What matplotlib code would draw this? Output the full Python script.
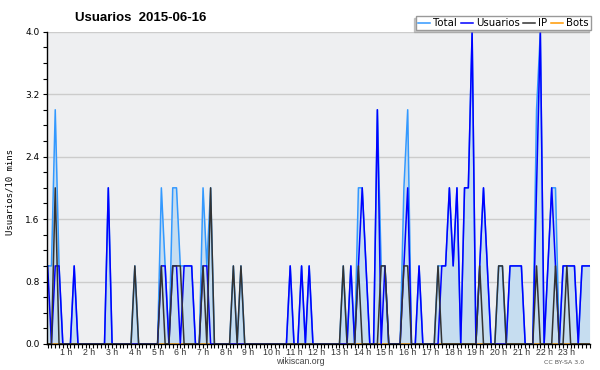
import matplotlib
matplotlib.use('Agg')
import matplotlib.pyplot as plt
import numpy as np

# values per 10 minutes, one row per hour (00h .. 23h)
total = [
    1, 1, 3, 1, 0, 0,   0, 1, 0, 0, 0, 0,   0, 0, 0, 0, 2, 0,   0, 0, 0, 0, 0, 1,
    0, 0, 0, 0, 0, 0,   2, 1, 0, 2, 2, 1,   1, 1, 1, 0, 0, 2,   1, 2, 0, 0, 0, 0,
    0, 1, 0, 1, 0, 0,   0, 0, 0, 0, 0, 0,   0, 0, 0, 0, 1, 0,   0, 1, 0, 1, 0, 0,
    0, 0, 0, 0, 0, 0,   1, 0, 1, 0, 2, 2,   1, 0, 0, 3, 1, 1,   0, 0, 0, 0, 2, 3,
    0, 0, 1, 0, 0, 0,   0, 1, 1, 1, 2, 1,   2, 0, 2, 2, 4, 0,   1, 2, 1, 0, 0, 1,
    1, 0, 1, 1, 1, 1,   0, 0, 0, 3, 4, 0,   1, 2, 2, 0, 1, 1,   1, 1, 0, 1, 1, 1,
]
usuarios = [
    1, 0, 1, 1, 0, 0,   0, 1, 0, 0, 0, 0,   0, 0, 0, 0, 2, 0,   0, 0, 0, 0, 0, 0,
    0, 0, 0, 0, 0, 0,   1, 1, 0, 1, 1, 0,   1, 1, 1, 0, 0, 1,   1, 0, 0, 0, 0, 0,
    0, 0, 0, 0, 0, 0,   0, 0, 0, 0, 0, 0,   0, 0, 0, 0, 1, 0,   0, 1, 0, 1, 0, 0,
    0, 0, 0, 0, 0, 0,   0, 0, 1, 0, 1, 2,   1, 0, 0, 3, 0, 1,   0, 0, 0, 0, 1, 2,
    0, 0, 1, 0, 0, 0,   0, 0, 1, 1, 2, 1,   2, 0, 2, 2, 4, 0,   1, 2, 1, 0, 0, 0,
    0, 0, 1, 1, 1, 1,   0, 0, 0, 2, 4, 0,   1, 2, 1, 0, 1, 1,   1, 1, 0, 1, 1, 1,
]
ip = [
    0, 0, 2, 0, 0, 0,   0, 0, 0, 0, 0, 0,   0, 0, 0, 0, 0, 0,   0, 0, 0, 0, 0, 1,
    0, 0, 0, 0, 0, 0,   1, 0, 0, 1, 1, 1,   0, 0, 0, 0, 0, 1,   0, 2, 0, 0, 0, 0,
    0, 1, 0, 1, 0, 0,   0, 0, 0, 0, 0, 0,   0, 0, 0, 0, 0, 0,   0, 0, 0, 0, 0, 0,
    0, 0, 0, 0, 0, 0,   1, 0, 0, 0, 1, 0,   0, 0, 0, 0, 1, 1,   0, 0, 0, 0, 1, 1,
    0, 0, 0, 0, 0, 0,   0, 1, 0, 0, 0, 0,   0, 0, 0, 0, 0, 0,   1, 0, 0, 0, 0, 1,
    1, 0, 0, 0, 0, 0,   0, 0, 0, 1, 0, 0,   0, 0, 1, 0, 0, 1,   0, 0, 0, 0, 0, 0,
]
bots = [0] * 144

hour_labels = ['1 h', '2 h', '3 h', '4 h', '5 h', '6 h', '7 h', '8 h', '9 h', '10 h',
               '11 h', '12 h', '13 h', '14 h', '15 h', '16 h', '17 h', '18 h', '19 h',
               '20 h', '21 h', '22 h', '23 h']
yticks = [0.0, 0.8, 1.6, 2.4, 3.2, 4.0]

fig = plt.figure(figsize=(6, 3.7), dpi=100)
ax = fig.add_axes([0.0778, 0.0703, 0.9055, 0.8441])
ax.set_facecolor('#eeeff1')

x = np.arange(len(total))
ax.fill_between(x, total, color='#c6ddf0', lw=0, zorder=1)
l_bots, = ax.plot(x, bots, color='#ff9900', lw=1.1, zorder=1.2)
l_total, = ax.plot(x, total, color='#3399ff', lw=1.1, zorder=2)
l_usu, = ax.plot(x, usuarios, color='#0000ff', lw=1.1, zorder=2.1)
l_ip, = ax.plot(x, ip, color='#333333', lw=1.1, zorder=2.2)

ax.set_xlim(-0.26, 143.1)
ax.set_ylim(0, 4)

ax.set_yticks(yticks)
ax.set_yticklabels(['%.1f' % v for v in yticks])
ax.set_yticks(np.arange(0, 4.01, 0.2), minor=True)
ax.yaxis.grid(True, color='#cccccc', lw=1)
ax.set_axisbelow(True)
ax.tick_params(axis='y', which='both', length=3, width=0.8, direction='out',
               labelsize=6.5, pad=2, colors='black')

ax.set_xticks([])
ax.set_xticks(x, minor=True)
ax.tick_params(axis='x', which='minor', length=3, width=0.8, direction='out')

for h, lab in enumerate(hour_labels, start=1):
    ax.text(6 * h - 1, -0.014, lab, transform=ax.get_xaxis_transform(),
            ha='center', va='top', fontsize=6.3, color='#333333',
            family='Liberation Sans')

for s in ['top', 'right']:
    ax.spines[s].set_visible(False)
for s in ['left', 'bottom']:
    ax.spines[s].set_linewidth(1)
    ax.spines[s].set_zorder(3)

fig.text(0.017, 0.481, 'Usuarios/10 mins', rotation=90, family='DejaVu Sans Mono',
         fontsize=6.5, ha='center', va='center')
fig.text(0.125, 0.952, 'Usuarios  2015-06-16', fontweight='bold', fontsize=9.5,
         family='Liberation Sans', ha='left', va='center')
fig.text(0.5, 0.0243, 'wikiscan.org', fontsize=6.3, color='#444444',
         family='Liberation Sans', ha='center', va='center')
fig.text(0.94, 0.0216, 'CC BY-SA 3.0', fontsize=4.5, color='#555555',
         ha='center', va='center')

ax.legend(handles=[l_total, l_usu, l_ip, l_bots], labels=['Total', 'Usuarios', 'IP', 'Bots'],
          ncol=4, loc='upper right', bbox_to_anchor=(0.985, 0.956),
          bbox_transform=fig.transFigure, fontsize=7.3, frameon=True, fancybox=False,
          edgecolor='#999999', framealpha=1, handlelength=1.2, handletextpad=0.3,
          columnspacing=0.35, borderpad=0.2, borderaxespad=0,
          shadow={'ox': -1.5, 'oy': -1.5, 'color': '#999999'})

fig.savefig('out.png', dpi=100)
